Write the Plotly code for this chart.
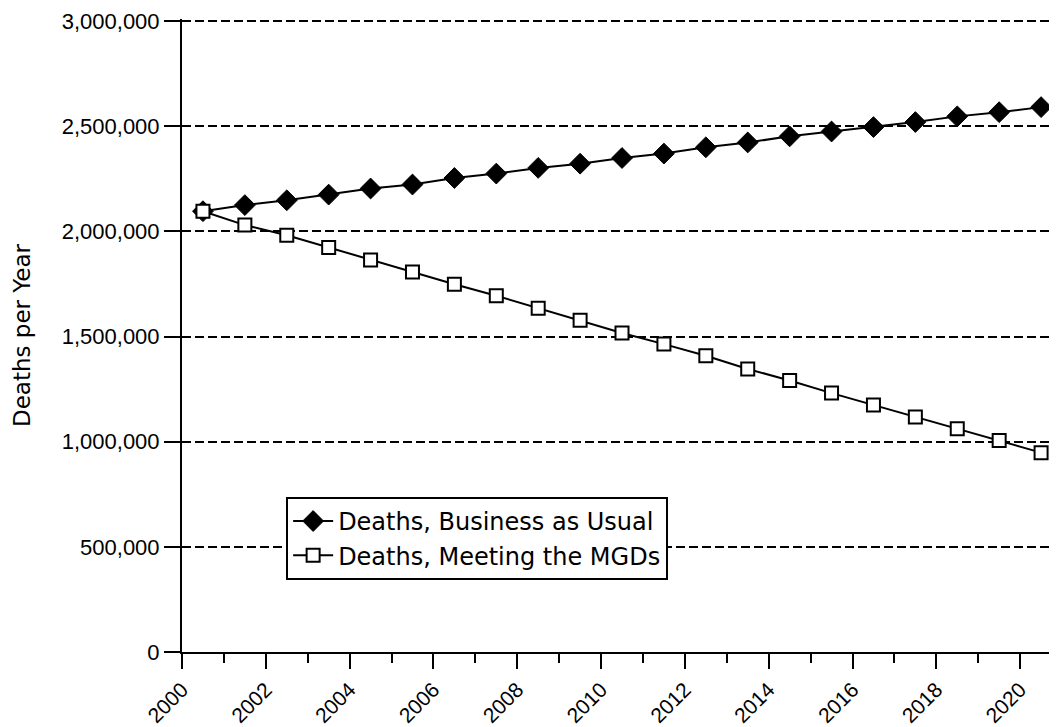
import plotly.graph_objects as go

years = list(range(2000, 2021))
bau = [2096000, 2125000, 2148000, 2175000, 2204000, 2223000, 2254000, 2275000,
       2302000, 2322000, 2349000, 2370000, 2400000, 2423000, 2452000, 2475000,
       2496000, 2520000, 2547000, 2567000, 2591000]
mgd = [2096000, 2030000, 1982000, 1923000, 1864000, 1807000, 1749000, 1694000,
       1635000, 1578000, 1517000, 1464000, 1409000, 1346000, 1291000, 1231000,
       1175000, 1117000, 1062000, 1006000, 948000]
x_tick_vals = list(range(2000, 2021, 2))
x_tick_text = [str(v) for v in x_tick_vals]
y_tick_vals = [0, 500000, 1000000, 1500000, 2000000, 2500000, 3000000]
y_tick_text = ["0", "500,000", "1,000,000", "1,500,000", "2,000,000", "2,500,000", "3,000,000"]

# points sit at the centre of each year interval
xpos = [y + 0.5 for y in years]

fig = go.Figure()
fig.add_trace(go.Scatter(
    x=xpos, y=bau, mode="lines+markers", name="Deaths, Business as Usual",
    line=dict(color="black", width=2),
    marker=dict(symbol="diamond", size=16, color="black", line=dict(color="black", width=1)),
))
fig.add_trace(go.Scatter(
    x=xpos, y=mgd, mode="lines+markers", name="Deaths, Meeting the MGDs",
    line=dict(color="black", width=2),
    marker=dict(symbol="square", size=13, color="white", line=dict(color="black", width=2)),
))

fig.update_layout(
    width=1049, height=719,
    margin=dict(l=174, r=0, t=11, b=73),
    paper_bgcolor="white", plot_bgcolor="white",
    font=dict(family="DejaVu Sans", color="black"),
    legend=dict(
        x=0.119, y=0.245, xanchor="left", yanchor="top",
        bordercolor="black", borderwidth=2, bgcolor="white",
        font=dict(family="DejaVu Sans", size=24, color="black"),
        tracegroupgap=0, itemwidth=40,
    ),
    xaxis=dict(
        range=[2000, 2020.88],
        tickmode="array", tickvals=x_tick_vals, ticktext=x_tick_text,
        ticks="outside", ticklen=15, tickwidth=2, tickcolor="black",
        showline=True, linecolor="black", linewidth=2,
        showgrid=False, zeroline=False, tickangle=-45,
        tickfont=dict(family="Liberation Sans", size=21, color="black"),
        minor=dict(tickmode="linear", tick0=2000, dtick=1, ticks="outside",
                   ticklen=9, tickwidth=2, tickcolor="black", showgrid=False),
    ),
    yaxis=dict(
        range=[0, 3010000],
        tickmode="array", tickvals=y_tick_vals, ticktext=y_tick_text,
        ticks="outside", ticklen=16, tickwidth=2, tickcolor="black",
        showline=True, linecolor="black", linewidth=2,
        showgrid=True, gridcolor="black", gridwidth=2, griddash="9px,4px",
        zeroline=False,
        tickfont=dict(family="Liberation Sans", size=22, color="black"),
        title=dict(text="Deaths per Year", standoff=25,
                   font=dict(family="DejaVu Sans", size=23, color="black")),
    ),
)

fig.write_html("out.html")
